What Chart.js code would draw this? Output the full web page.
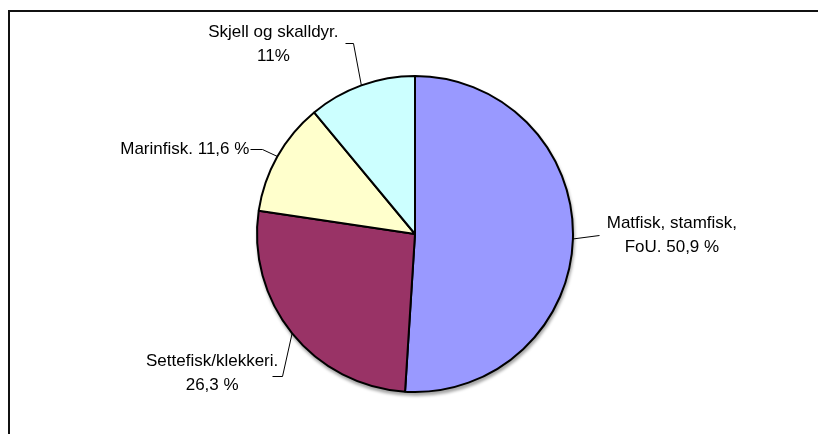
<!DOCTYPE html>
<html>
<head>
<meta charset="utf-8">
<script src="https://cdn.jsdelivr.net/npm/chart.js@4.4.0/dist/chart.umd.min.js"></script>
<style>
  html, body { margin: 0; padding: 0; background: #fff; }
  #pie { display: block; }
</style>
</head>
<body>
<canvas id="pie" width="818" height="434"></canvas>
<script>
// data (share of total, %)
const categories = ["Matfisk, stamfisk, FoU", "Settefisk/klekkeri", "Marinfisk", "Skjell og skalldyr"];
const shares = [50.9, 26.3, 11.6, 11];
const labelLines = [
  ["Matfisk, stamfisk,", "FoU. 50,9 %"],
  ["Settefisk/klekkeri.", "26,3 %"],
  ["Marinfisk. 11,6 %"],
  ["Skjell og skalldyr.", "11%"],
];

// where each label sits relative to the slice's mid point on the rim
// leader: list of points (offsets), text: anchor offset + alignment
const labelLayout = [
  { leader: [[26, -4]], tx: 99, ty: -16, align: "center" },
  { leader: [[-10, 43], [-20, 43]], tx: -80, ty: 28, align: "center" },
  { leader: [[-15, -7], [-27, -7]], tx: -28, ty: -7, align: "right" },
  { leader: [[-8, -42], [-16, -42]], tx: -88, ty: -53, align: "center" },
];

const frame = {
  id: "frame",
  beforeDraw(chart) {
    const c = chart.ctx;
    c.save();
    c.fillStyle = "#fff";
    c.fillRect(0, 0, chart.width, chart.height);
    c.fillStyle = "#111";
    c.fillRect(8, 10, chart.width - 8, 2);
    c.fillRect(8, 10, 2, chart.height - 10);
    c.restore();
  },
};

const pieShadow = {
  id: "pieShadow",
  beforeDatasetsDraw(chart) {
    const arc = chart.getDatasetMeta(0).data[0];
    if (!arc) return;
    const c = chart.ctx;
    c.save();
    c.fillStyle = "rgba(0,0,0,0.35)";
    c.filter = "blur(1.5px)";
    c.beginPath();
    c.arc(arc.x + 1, arc.y + 3, arc.outerRadius + 1, 0, Math.PI * 2);
    c.fill();
    c.restore();
  },
};

const sliceLabels = {
  id: "sliceLabels",
  afterDatasetsDraw(chart) {
    const c = chart.ctx;
    const arcs = chart.getDatasetMeta(0).data;
    c.save();
    c.strokeStyle = "#000";
    c.lineWidth = 1;
    c.fillStyle = "#000";
    c.font = "17px 'Liberation Sans', Arial, sans-serif";
    c.textBaseline = "middle";
    arcs.forEach((arc, i) => {
      const mid = (arc.startAngle + arc.endAngle) / 2;
      const ax = arc.x + Math.cos(mid) * arc.outerRadius;
      const ay = arc.y + Math.sin(mid) * arc.outerRadius;
      const lay = labelLayout[i];
      c.beginPath();
      c.moveTo(ax, ay);
      lay.leader.forEach(p => c.lineTo(Math.round(ax + p[0]) + 0.5, Math.round(ay + p[1]) + 0.5));
      c.stroke();
      c.textAlign = lay.align;
      labelLines[i].forEach((t, k) => {
        c.fillText(t, ax + lay.tx, ay + lay.ty + k * 24);
      });
    });
    c.restore();
  },
};

new Chart(document.getElementById("pie"), {
  type: "pie",
  data: {
    labels: categories,
    datasets: [
      {
        data: shares,
        backgroundColor: ["#9999FF", "#993366", "#FFFFCC", "#CCFFFF"],
        borderColor: "#000",
        borderWidth: 2,
        hoverOffset: 0,
      },
    ],
  },
  options: {
    responsive: false,
    animation: false,
    layout: { padding: { left: 256, right: 244, top: 75, bottom: 41 } },
    plugins: {
      legend: { display: false },
      tooltip: { enabled: false },
    },
  },
  plugins: [frame, pieShadow, sliceLabels],
});
</script>
</body>
</html>
